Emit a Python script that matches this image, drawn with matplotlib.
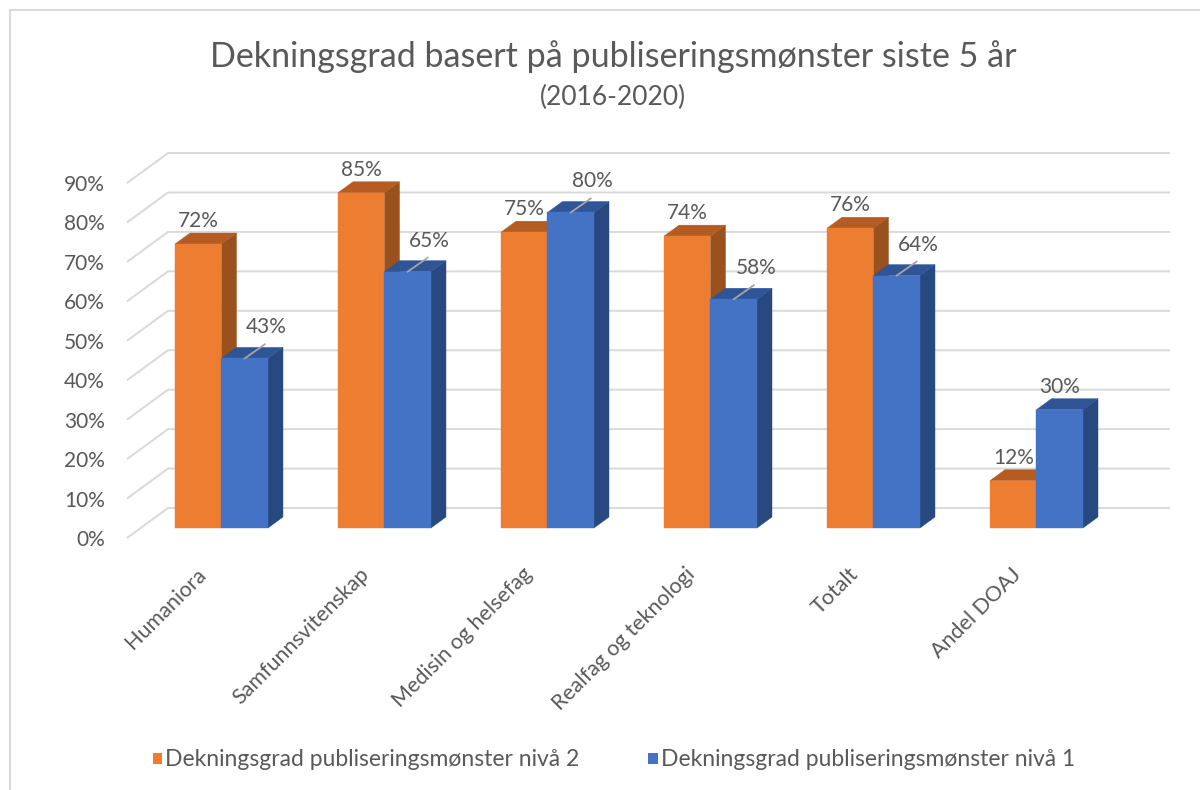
import matplotlib
matplotlib.use("Agg")
import matplotlib.pyplot as plt
from matplotlib.patches import Polygon, Patch
from matplotlib.lines import Line2D
from matplotlib.transforms import ScaledTranslation

plt.rcParams['font.family'] = ['Lato', 'DejaVu Sans']

# ---- data ----
categories = ["Humaniora", "Samfunnsvitenskap", "Medisin og helsefag",
              "Realfag og teknologi", "Totalt", "Andel DOAJ"]
niva2 = [0.72, 0.85, 0.75, 0.74, 0.76, 0.12]
niva1 = [0.43, 0.65, 0.80, 0.58, 0.64, 0.30]
series_names = ["Dekningsgrad publiseringsmønster nivå 2",
                "Dekningsgrad publiseringsmønster nivå 1"]
yticks = [0.0, 0.1, 0.2, 0.3, 0.4, 0.5, 0.6, 0.7, 0.8, 0.9]
ytick_labels = ["0%", "10%", "20%", "30%", "40%", "50%", "60%", "70%", "80%", "90%"]
title = "Dekningsgrad basert på publiseringsmønster siste 5 år"
subtitle = "(2016-2020)"

# ---- style ----
TXT = '#595959'
GRID = '#D9D9D9'
front_cols = ['#ED7D31', '#4472C4']
top_cols = ['#B45C22', '#2F5597']
side_cols = ['#99511D', '#284980']

W, H = 1200, 790
fig = plt.figure(figsize=(W / 100, H / 100), dpi=100)
fig.patch.set_facecolor('white')

# front plane of the 3D box
L, R, B, T = 127, 1129, 538, 538 - 0.9 * 394.4
ax = fig.add_axes([L / W, 1 - B / H, (R - L) / W, (B - T) / H])
xmin, xmax = (L - 207.8) / 163, (R - 207.8) / 163
ax.set_xlim(xmin, xmax)
ax.set_ylim(0, 0.9)
for s in ax.spines.values():
    s.set_visible(False)
ax.set_facecolor('none')

DX, DY = 41 / 163, 30 / 394.4   # full depth offset in data units
d0, d1 = 1 / 3, 0.70             # bar depth span
bw = 46.5 / 163                  # bar width


def P(x, v, d):
    return (x + d * DX, v + d * DY)


# gridlines (left wall + back wall)
for v in yticks:
    xs, ys = zip(P(xmin, v, 0), P(xmin, v, 1), P(xmax, v, 1))
    ax.plot(xs, ys, color=GRID, lw=1.4, zorder=1, clip_on=False,
            solid_capstyle='butt')

# ticks
ax.set_yticks(yticks)
ax.set_yticklabels(ytick_labels)
ax.tick_params(axis='y', length=0, pad=16, labelsize=15, labelcolor=TXT)
ax.set_xticks(range(len(categories)))
ax.set_xticklabels(categories, rotation=45, ha='right', va='center',
                   rotation_mode='anchor')
ax.tick_params(axis='x', length=0, pad=24, labelsize=15.5, labelcolor=TXT)
for lab in ax.get_xticklabels():
    lab.set_transform(lab.get_transform() +
                      ScaledTranslation(-5 / 100, 0, fig.dpi_scale_trans))


def off(dx, dy):
    return ax.transData + ScaledTranslation(dx / 100, dy / 100, fig.dpi_scale_trans)


blue_leader = [True, True, True, True, True, False]

z = 3
for i in range(len(categories)):
    for s, vals in enumerate([niva2, niva1]):
        v = vals[i]
        x0 = i - bw + s * bw
        x1 = x0 + bw
        side = [P(x1, 0, d0), P(x1, 0, d1), P(x1, v, d1), P(x1, v, d0)]
        top = [P(x0, v, d0), P(x1, v, d0), P(x1, v, d1), P(x0, v, d1)]
        front = [P(x0, 0, d0), P(x1, 0, d0), P(x1, v, d0), P(x0, v, d0)]
        for poly, col in ((side, side_cols[s]), (top, top_cols[s]), (front, front_cols[s])):
            ax.add_patch(Polygon(poly, closed=True, facecolor=col, edgecolor=col,
                                 lw=0.3, zorder=z, clip_on=False))
            z += 1
        cx, cy = P((x0 + x1) / 2, v, d0)
        lbl = f"{round(v * 100):d}%"
        if s == 1 and blue_leader[i]:
            x_disp, y_disp = ax.transData.transform((cx, cy))
            fig.add_artist(Line2D([x_disp / W, (x_disp + 20) / W],
                                  [y_disp / H, (y_disp + 14) / H],
                                  transform=fig.transFigure, color='#A6A6A6',
                                  lw=1.3, zorder=99))
            ax.text(cx, cy, lbl, transform=off(22, 31), ha='center', va='center',
                    fontsize=15, color=TXT, zorder=100)
        else:
            ax.text(cx, cy, lbl, transform=off(0, 23), ha='center', va='center',
                    fontsize=15, color=TXT, zorder=100)

# titles
fig.text(613 / W, 1 - 57 / H, title, ha='center', va='center', fontsize=24.5, color=TXT)
fig.text(613 / W, 1 - 97 / H, subtitle, ha='center', va='center', fontsize=19, color=TXT)

# legend
handles = [Patch(facecolor=front_cols[0], edgecolor='none'),
           Patch(facecolor=front_cols[1], edgecolor='none')]
fig.legend(handles, series_names, loc='center', bbox_to_anchor=(614 / W, 1 - 760 / H),
           ncol=2, frameon=False, fontsize=16.5, labelcolor=TXT,
           handlelength=0.4, handleheight=0.4, handletextpad=0.15,
           columnspacing=3.0)

# outer frame
fig.add_artist(Line2D([10 / W, 1], [1 - 10 / H, 1 - 10 / H], transform=fig.transFigure,
                      color=GRID, lw=1.5))
fig.add_artist(Line2D([10 / W, 10 / W], [0, 1 - 10 / H], transform=fig.transFigure,
                      color=GRID, lw=1.5))

fig.savefig("out.png", dpi=100)
